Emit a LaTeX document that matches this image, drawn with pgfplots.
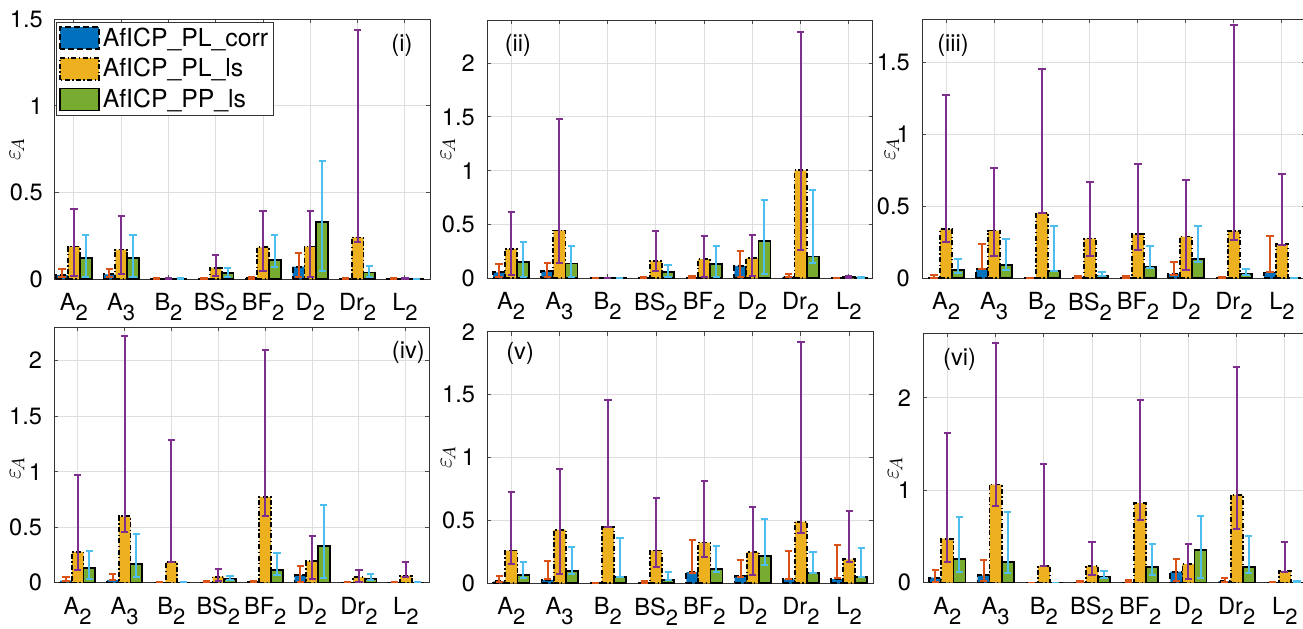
\documentclass[border=0pt]{standalone}
\usepackage{fontspec}
\setmainfont{TeX Gyre Heros}
\usepackage{pgfplots}
\usepackage{pgfplotstable}
\pgfplotsset{compat=1.18}

\definecolor{mblue}{rgb}{0,0.447,0.741}
\definecolor{morange}{rgb}{0.85,0.325,0.098}
\definecolor{myellow}{rgb}{0.929,0.694,0.125}
\definecolor{mpurple}{rgb}{0.494,0.184,0.556}
\definecolor{mgreen}{rgb}{0.466,0.674,0.188}
\definecolor{mcyan}{rgb}{0.301,0.745,0.933}

% columns: bar value, lower and upper end of its error bar
% b = AfICP_PL_corr, y = AfICP_PL_ls, g = AfICP_PP_ls
\pgfplotstableread{
x bv    bl    bh     yv    yl    yh     gv    gl    gh
1 0.023 0.013 0.056  0.187 0.017 0.404  0.120 0.013 0.254
2 0.027 0.013 0.060  0.170 0.030 0.363  0.123 0.010 0.254
3 0.001 0.000 0.003  0.002 0.000 0.004  0.001 0.000 0.003
4 0.003 0.000 0.008  0.065 0.017 0.138  0.033 0.013 0.065
5 0.005 0.002 0.013  0.183 0.048 0.394  0.110 0.070 0.254
6 0.071 0.010 0.148  0.187 0.010 0.390  0.327 0.048 0.680
7 0.002 0.000 0.007  0.240 0.215 1.437  0.037 0.013 0.077
8 0.001 0.000 0.003  0.002 0.000 0.005  0.001 0.000 0.002
}\tabi
\pgfplotstableread{
x bv    bl    bh     yv    yl    yh     gv    gl    gh
1 0.056 0.016 0.134  0.274 0.031 0.614  0.150 0.016 0.333
2 0.065 0.016 0.146  0.445 0.143 1.483  0.137 0.016 0.300
3 0.001 0.000 0.003  0.001 0.000 0.003  0.001 0.000 0.002
4 0.002 0.000 0.010  0.162 0.072 0.440  0.060 0.016 0.128
5 0.005 0.005 0.025  0.178 0.016 0.390  0.134 0.016 0.300
6 0.115 0.016 0.252  0.187 0.022 0.400  0.346 0.040 0.723
7 0.016 0.010 0.040  1.003 0.265 2.293  0.202 0.140 0.820
8 0.002 0.000 0.003  0.010 0.005 0.022  0.008 0.005 0.016
}\tabii
\pgfplotstableread{
x bv    bl    bh     yv    yl    yh     gv    gl    gh
1 0.002 0.005 0.020  0.340 0.250 1.275  0.058 0.035 0.132
2 0.065 0.063 0.239  0.332 0.155 0.767  0.090 0.058 0.274
3 0.000 0.000 0.002  0.454 0.454 1.456  0.053 0.053 0.362
4 0.002 0.002 0.013  0.276 0.155 0.668  0.020 0.016 0.044
5 0.003 0.003 0.016  0.306 0.197 0.795  0.079 0.070 0.227
6 0.030 0.020 0.114  0.290 0.058 0.680  0.132 0.111 0.366
7 0.002 0.002 0.012  0.330 0.267 1.762  0.028 0.020 0.065
8 0.040 0.044 0.292  0.239 0.232 0.726  0.002 0.000 0.005
}\tabiii
\pgfplotstableread{
x bv    bl    bh     yv    yl    yh     gv    gl    gh
1 0.018 0.012 0.054  0.277 0.114 0.968  0.129 0.036 0.286
2 0.024 0.024 0.078  0.598 0.460 2.220  0.168 0.048 0.440
3 0.000 0.000 0.002  0.183 0.183 1.284  0.001 0.000 0.002
4 0.002 0.002 0.012  0.054 0.018 0.123  0.030 0.024 0.063
5 0.003 0.003 0.012  0.773 0.600 2.100  0.114 0.069 0.270
6 0.069 0.009 0.150  0.195 0.030 0.424  0.334 0.039 0.700
7 0.002 0.000 0.005  0.048 0.009 0.114  0.036 0.024 0.075
8 0.001 0.000 0.003  0.063 0.054 0.190  0.001 0.000 0.003
}\tabiv
\pgfplotstableread{
x bv    bl    bh     yv    yl    yh     gv    gl    gh
1 0.016 0.011 0.058  0.260 0.154 0.724  0.066 0.042 0.170
2 0.027 0.032 0.178  0.424 0.074 0.907  0.098 0.072 0.292
3 0.000 0.000 0.002  0.448 0.448 1.459  0.053 0.053 0.358
4 0.003 0.003 0.019  0.260 0.133 0.679  0.027 0.027 0.088
5 0.088 0.085 0.345  0.324 0.212 0.814  0.111 0.093 0.300
6 0.058 0.048 0.186  0.247 0.066 0.607  0.218 0.146 0.515
7 0.032 0.037 0.257  0.490 0.398 1.920  0.080 0.080 0.247
8 0.034 0.042 0.305  0.191 0.172 0.573  0.048 0.048 0.284
}\tabv
\pgfplotstableread{
x bv    bl    bh     yv    yl    yh     gv    gl    gh
1 0.054 0.011 0.137  0.477 0.220 1.620  0.253 0.112 0.709
2 0.080 0.018 0.246  1.063 0.832 2.597  0.224 0.101 0.767
3 0.000 0.000 0.002  0.181 0.181 1.288  0.001 0.000 0.002
4 0.002 0.002 0.018  0.181 0.083 0.438  0.061 0.054 0.127
5 0.003 0.003 0.029  0.861 0.680 1.982  0.166 0.083 0.420
6 0.119 0.018 0.257  0.203 0.036 0.420  0.354 0.047 0.727
7 0.018 0.011 0.047  0.951 0.582 2.336  0.174 0.101 0.506
8 0.001 0.000 0.003  0.127 0.119 0.438  0.002 0.005 0.018
}\tabvi

\newcommand{\sub}[1]{\raisebox{-0.42em}{\fontsize{11}{12}\selectfont #1}}
\newcommand{\fnt}{\fontsize{11.8}{14}\selectfont}

\pgfplotsset{
  ebar/.style={
    error bars/y dir=both, error bars/y explicit,
    error bars/draw error bar/.code 2 args={%
      \draw[solid, line width=1pt, draw=#1] ##1 -- ##2;
      \draw[solid, line width=1pt, draw=#1] ##2 ++(-1.8pt,0) -- ++(3.6pt,0);}},
  barleg/.style={legend image code/.code={\draw[##1, line width=0.9pt] (0pt,-5.5pt) rectangle (19.5pt,5.5pt);}},
  bblue/.style={fill=mblue, draw=black, line width=0.9pt, dash pattern=on 3pt off 1.5pt,
    bar shift=0, barleg, ebar=morange},
  byellow/.style={fill=myellow, draw=black, line width=0.9pt,
    dash pattern=on 2.5pt off 1.2pt on 0.7pt off 1.2pt, bar shift=0, barleg, ebar=mpurple},
  bgreen/.style={fill=mgreen, draw=black, line width=0.9pt, solid,
    bar shift=0, barleg, ebar=mcyan},
  panel/.style={
    scale only axis, anchor=south west,
    ybar=0pt, bar width=0.25,
    xmin=0.5, xmax=8.5, ymin=0,
    xtick={1,...,8},
    xticklabels={A\sub{2},A\sub{3},B\sub{2},BS\sub{2},BF\sub{2},D\sub{2},Dr\sub{2},L\sub{2}},
    tick align=inside, tick pos=both, xticklabel pos=lower, yticklabel pos=left,
    major tick length=2pt,
    grid=major, major grid style={draw=black!13, line width=0.5pt},
    axis line style={draw=black!80, line width=0.5pt},
    every tick/.style={draw=black!70, line width=0.5pt},
    font=\fnt,
    xticklabel style={yshift=-3.6pt},
    yticklabel style={xshift=-2.6pt},
    /pgf/number format/assume math mode=true,
    ylabel={$\varepsilon_{\!A}$},
    ylabel style={anchor=center, font=\fontsize{13}{14}\selectfont},
  },
}

% the three bars of a group sit at x-0.25, x and x+0.25
\newcommand{\threebars}[1]{%
  \addplot[bblue] table[x expr=\thisrow{x}-0.25, y=bv,
    y error plus expr=\thisrow{bh}-\thisrow{bv},
    y error minus expr=\thisrow{bv}-\thisrow{bl}] {#1};
  \addplot[byellow] table[x=x, y=yv,
    y error plus expr=\thisrow{yh}-\thisrow{yv},
    y error minus expr=\thisrow{yv}-\thisrow{yl}] {#1};
  \addplot[bgreen] table[x expr=\thisrow{x}+0.25, y=gv,
    y error plus expr=\thisrow{gh}-\thisrow{gv},
    y error minus expr=\thisrow{gv}-\thisrow{gl}] {#1};
}

\begin{document}
\begin{tikzpicture}
\path[use as bounding box] (0,0) rectangle (651.5pt,314pt);

% (i)
\begin{axis}[panel, at={(27.5pt,174.5pt)}, width=187.5pt, height=130pt,
    xmin=0.6, xmax=8.53, ymax=1.5, ytick={0,0.5,1,1.5},
    ylabel style={at={(rel axis cs:0,0.5)}, yshift=19pt},
    legend style={at={(rel axis cs:0.004,0.988)}, anchor=north west,
      draw=black!80, fill=white, line width=0.5pt, font=\fontsize{12.4}{14}\selectfont,
      inner sep=1pt, row sep=1.5pt, nodes={inner sep=1.5pt}},
    legend cell align=left]
  \threebars{\tabi}
  \legend{AfICP\_PL\_corr, AfICP\_PL\_ls, AfICP\_PP\_ls}
  \node at (rel axis cs:0.925,0.9) {(i)};
\end{axis}

% (ii)
\begin{axis}[panel, at={(243.5pt,174.85pt)}, width=193pt, height=129.15pt,
    ymax=2.4, ytick={0,0.5,1,1.5,2},
    ylabel style={at={(rel axis cs:0,0.5)}, yshift=19.5pt}]
  \threebars{\tabii}
  \node at (rel axis cs:0.08,0.9) {(ii)};
\end{axis}

% (iii)
\begin{axis}[panel, at={(461pt,174.85pt)}, width=192pt, height=129.5pt,
    ymax=1.8, ytick={0,0.5,1,1.5},
    ylabel style={at={(rel axis cs:0,0.5)}, yshift=15pt}]
  \threebars{\tabiii}
  \node at (rel axis cs:0.081,0.9) {(iii)};
\end{axis}

% (iv)
\begin{axis}[panel, at={(27.15pt,22.65pt)}, width=187.5pt, height=127.7pt,
    ymax=2.3, ytick={0,0.5,1,1.5,2},
    ylabel style={at={(rel axis cs:0,0.45)}, yshift=18.5pt}]
  \threebars{\tabiv}
  \node at (rel axis cs:0.944,0.9) {(iv)};
\end{axis}

% (v)
\begin{axis}[panel, at={(243.65pt,22.35pt)}, width=193pt, height=125.8pt,
    ymax=2, ytick={0,0.5,1,1.5,2},
    ylabel style={at={(rel axis cs:0,0.5)}, yshift=19.5pt}]
  \threebars{\tabv}
  \node at (rel axis cs:0.085,0.915) {(v)};
\end{axis}

% (vi)
\begin{axis}[panel, at={(461.65pt,22.65pt)}, width=192.85pt, height=124.7pt,
    ymax=2.7, ytick={0,1,2},
    ylabel style={at={(rel axis cs:0,0.46)}, yshift=14pt}]
  \threebars{\tabvi}
  \node at (rel axis cs:0.094,0.897) {(vi)};
\end{axis}
\end{tikzpicture}
\end{document}
